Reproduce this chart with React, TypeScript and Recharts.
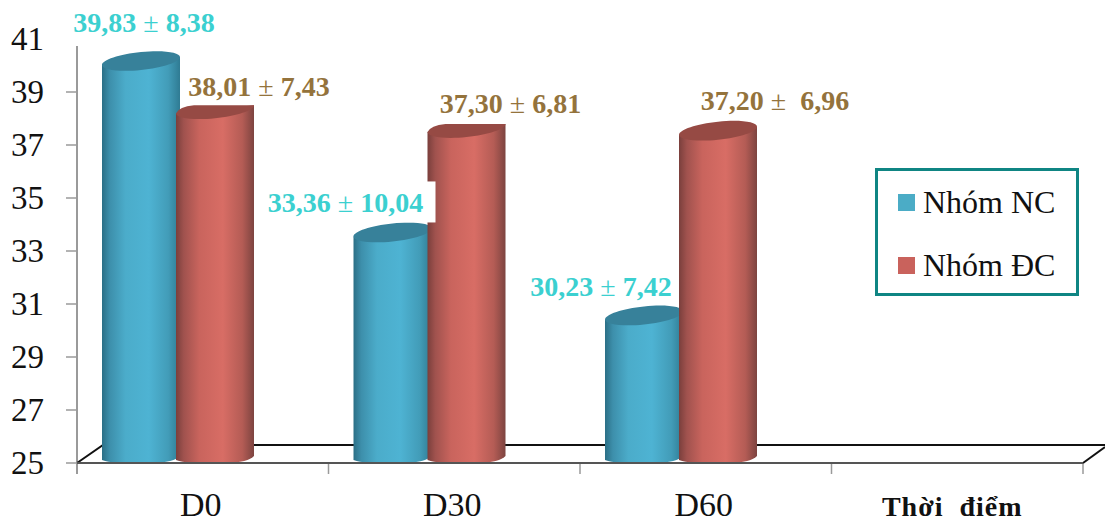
import React from "react";
import { BarChart, Bar, XAxis, YAxis, Legend, LabelList } from "recharts";

const categories = ["D0", "D30", "D60", "Thời  điểm"];
const groupNC = [39.83, 33.36, 30.23, null];
const groupDC = [38.01, 37.3, 37.2, null];
const labelsNC = ["39,83 ± 8,38", "33,36 ± 10,04", "30,23 ± 7,42", ""];
const labelsDC = ["38,01 ± 7,43", "37,30 ± 6,81", "37,20 ±\u00a0 6,96", ""];
const yTicks = [25, 27, 29, 31, 33, 35, 37, 39, 41];

const data = categories.map((name, i) => ({
    name,
    nc: groupNC[i],
    dc: groupDC[i],
    ncLabel: labelsNC[i],
    dcLabel: labelsDC[i],
}));

const WIDTH = 1105;
const HEIGHT = 521;
const LEFT = 77;
const RIGHT = 1083;
const TOP = 39;
const FLOOR = 463;
const SERIF = "'Liberation Serif', 'Times New Roman', serif";

// the 3D look pushes the columns left of the category centre
const BAR_SHIFT = -25;
const CAP_RY = 9;
const CAP_RISE = 4;
const KAPPA = 0.5523;

const NC_COLOR = "#4bacc6";
const DC_COLOR = "#c9625c";

function CylinderBar({ x, y, width, height, series, index, flatCaps = [] }: any) {
    if (!height || height <= 0) return null;
    const left = x + BAR_SHIFT;
    const right = left + width;
    const rx = width / 2;
    const cx = left + rx;
    const base = y + height;
    const cy = y - CAP_RY;
    const ly = cy + CAP_RISE;
    const ry = cy - CAP_RISE;
    const k = KAPPA * rx;
    const kr = KAPPA * CAP_RY;
    const kRise = KAPPA * CAP_RISE;

    const lower = `M${left},${ly} C${left},${ly + kr} ${cx - k},${y + kRise} ${cx},${y} C${cx + k},${y - kRise} ${right},${ry + kr} ${right},${ry}`;
    const flatY = y - 13;
    const upper = flatCaps.includes(index)
        ? `L${right},${flatY} L${left + 18},${flatY} Q${left + 3},${flatY + 1.5} ${left},${ly} Z`
        : `C${right},${ry - kr} ${cx + k},${cy - CAP_RY - kRise} ${cx},${cy - CAP_RY} C${cx - k},${cy - CAP_RY + kRise} ${left},${ly - kr} ${left},${ly} Z`;

    const body = `M${left},${ly} L${left},${base - 3} C${left + 8},${base} ${left + 20},${base} ${cx - 10},${base} L${cx + 8},${base} C${right - 12},${base} ${right - 4},${base - 3} ${right},${base - 7} L${right},${ry} Z`;

    return (
        <g>
            <path d={body} fill={`url(#body-${series})`} />
            <path d={`${lower} ${upper}`} fill={series === "nc" ? "#37819a" : "#964a44"} />
        </g>
    );
}

function ValueLabel({ x, y, width, value, index, color, nudges, boxed }: any) {
    if (!value) return null;
    const [dx, dy] = nudges[index];
    const tx = x + BAR_SHIFT + width / 2 + dx;
    const ty = y + dy;
    const [before, after] = String(value).split("±");
    return (
        <g>
            {boxed === index && <rect x={tx - 81} y={ty - 31} width={171} height={41} fill="#ffffff" />}
            <text x={tx} y={ty} textAnchor="middle" fill={color} fontFamily={SERIF} fontSize={28} fontWeight="bold">
                {before}
                <tspan fontWeight="normal">±</tspan>
                {after}
            </text>
        </g>
    );
}

function YTick({ y, payload }: any) {
    return (
        <g>
            {payload.value !== 41 && <line x1={LEFT - 11} x2={LEFT} y1={y} y2={y} stroke="#9a9a9a" strokeWidth={1.5} />}
            <text x={44} y={y + 11} textAnchor="end" fontFamily={SERIF} fontSize={33} fill="#111">
                {payload.value}
            </text>
        </g>
    );
}

function XTick({ x, payload }: any) {
    const last = payload.value === categories[3];
    return (
        <text
            x={last ? x - 5 : x - 2}
            y={FLOOR + 53}
            textAnchor="middle"
            fontFamily={SERIF}
            fontSize={last ? 28 : 34}
            fontWeight={last ? "bold" : "normal"}
            letterSpacing={last ? 1 : 0}
            fill="#111"
            style={{ whiteSpace: "pre" }}
        >
            {payload.value}
        </text>
    );
}

function LegendBox() {
    const rows = [
        { name: "Nhóm NC", color: NC_COLOR },
        { name: "Nhóm ĐC", color: DC_COLOR },
    ];
    return (
        <div
            style={{
                width: 204,
                height: 128,
                boxSizing: "border-box",
                border: "3px solid #0f8583",
                background: "#fff",
                position: "relative",
                fontFamily: SERIF,
                fontSize: 32,
                color: "#111",
            }}
        >
            {rows.map((row, i) => (
                <div
                    key={row.name}
                    style={{
                        position: "absolute",
                        left: 20,
                        top: 13 + i * 63,
                        display: "flex",
                        alignItems: "center",
                        height: 36,
                        whiteSpace: "nowrap",
                    }}
                >
                    <span style={{ width: 17, height: 17, background: row.color, marginRight: 8 }} />
                    {row.name}
                </div>
            ))}
        </div>
    );
}

export default function App() {
    const step = (RIGHT - LEFT) / categories.length;
    return (
        <div style={{ position: "absolute", left: 0, top: 0, width: WIDTH, height: HEIGHT, background: "#fff" }}>
            <BarChart
                width={WIDTH}
                height={HEIGHT}
                data={data}
                margin={{ top: TOP, right: WIDTH - RIGHT, left: 0, bottom: 0 }}
                barSize={78}
                barGap={-4}
            >
                <defs>
                    <linearGradient id="body-nc" x1="0" x2="1" y1="0" y2="0">
                        <stop offset="0" stopColor="#2b6f86" />
                        <stop offset="0.1" stopColor="#3d8fab" />
                        <stop offset="0.3" stopColor="#4bacca" />
                        <stop offset="0.6" stopColor="#4eb3d3" />
                        <stop offset="0.85" stopColor="#429cb8" />
                        <stop offset="1" stopColor="#2f7b93" />
                    </linearGradient>
                    <linearGradient id="body-dc" x1="0" x2="1" y1="0" y2="0">
                        <stop offset="0" stopColor="#7a3f3c" />
                        <stop offset="0.1" stopColor="#a0524e" />
                        <stop offset="0.3" stopColor="#c9645d" />
                        <stop offset="0.6" stopColor="#d86d65" />
                        <stop offset="0.85" stopColor="#b45c55" />
                        <stop offset="1" stopColor="#7d4440" />
                    </linearGradient>
                </defs>

                {/* chart floor, left wall and the category boundary ticks */}
                <g fill="none">
                    <line x1={LEFT} x2={LEFT} y1={46} y2={FLOOR + 11} stroke="#9a9a9a" strokeWidth={2} />
                    {categories.map((name, i) => (
                        <line
                            key={name}
                            x1={LEFT + step * (i + 1)}
                            x2={LEFT + step * (i + 1)}
                            y1={FLOOR}
                            y2={FLOOR + 11}
                            stroke="#9a9a9a"
                            strokeWidth={1.5}
                        />
                    ))}
                    <path d={`M${LEFT},${FLOOR} L${LEFT + 26},${FLOOR - 18} H${WIDTH}`} stroke="#111" strokeWidth={2} />
                    <path d={`M${RIGHT},${FLOOR} L${WIDTH},${FLOOR - 16}`} stroke="#111" strokeWidth={2} />
                </g>

                <XAxis
                    dataKey="name"
                    height={HEIGHT - FLOOR}
                    interval={0}
                    tick={<XTick />}
                    tickLine={false}
                    axisLine={{ stroke: "#555", strokeWidth: 2 }}
                />
                <YAxis
                    width={LEFT}
                    domain={[25, 41]}
                    ticks={yTicks}
                    interval={0}
                    tick={<YTick />}
                    tickLine={false}
                    axisLine={false}
                />
                <Legend
                    layout="vertical"
                    align="center"
                    verticalAlign="middle"
                    content={<LegendBox />}
                    wrapperStyle={{ position: "absolute", left: 875, top: 168, width: 204, height: 128, bottom: "auto" }}
                />
                <Bar dataKey="nc" name="Nhóm NC" fill={NC_COLOR} isAnimationActive={false} shape={<CylinderBar series="nc" />}>
                    <LabelList
                        dataKey="ncLabel"
                        content={
                            <ValueLabel color="#3bd0d0" nudges={[[3, -38], [-47, -29], [-43, -28]]} boxed={1} />
                        }
                    />
                </Bar>
                <Bar
                    dataKey="dc"
                    name="Nhóm ĐC"
                    fill={DC_COLOR}
                    isAnimationActive={false}
                    shape={<CylinderBar series="dc" flatCaps={[0, 1]} />}
                >
                    <LabelList
                        dataKey="dcLabel"
                        content={<ValueLabel color="#94733c" nudges={[[44, -22], [44, -24], [57, -30]]} />}
                    />
                </Bar>
            </BarChart>
        </div>
    );
}
